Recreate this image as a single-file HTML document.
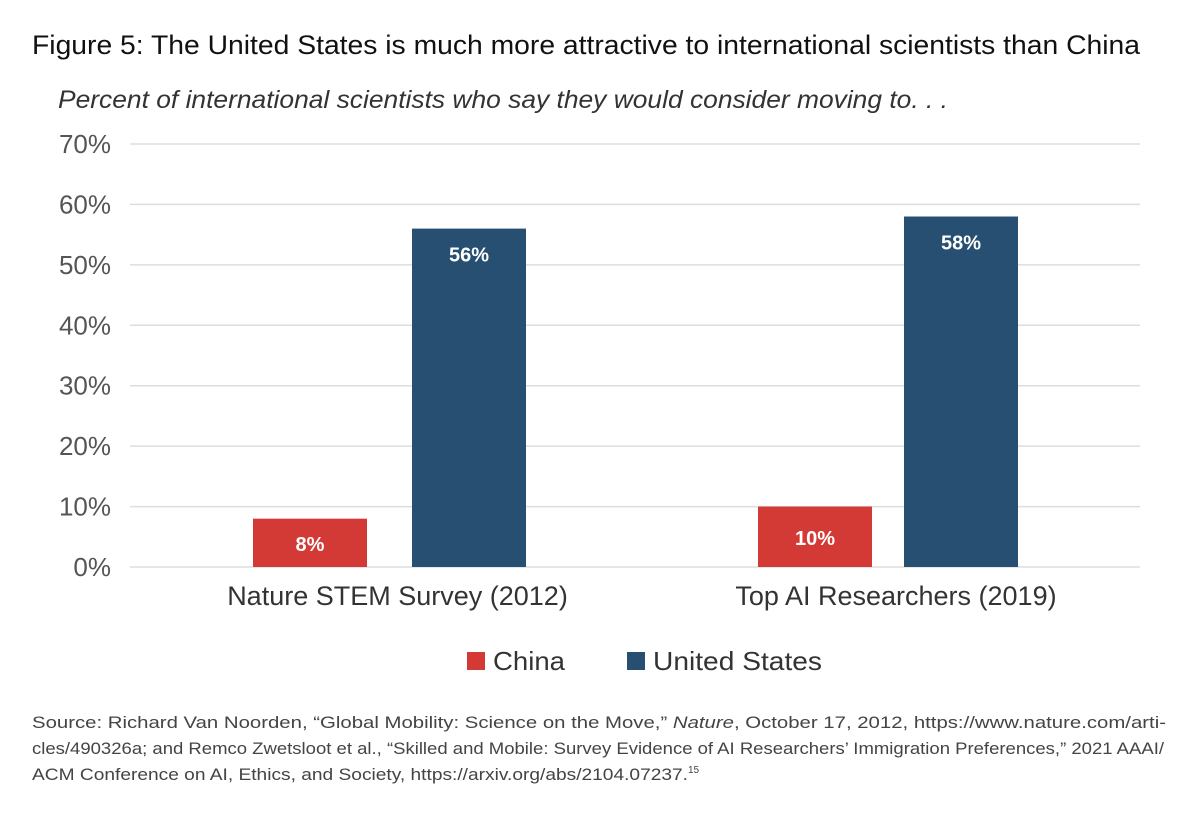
<!DOCTYPE html>
<html><head><meta charset="utf-8"><style>
body{margin:0;background:#fff;width:1200px;height:809px;overflow:hidden;font-family:"Liberation Sans",sans-serif}
</style></head><body>
<svg width="1200" height="809" font-family="Liberation Sans, sans-serif">
<text x="32" y="54" font-size="27" fill="#111" textLength="1108" lengthAdjust="spacingAndGlyphs">Figure 5: The United States is much more attractive to international scientists than China</text>
<text x="58" y="108" font-size="25" font-style="italic" fill="#333" textLength="890" lengthAdjust="spacingAndGlyphs">Percent of international scientists who say they would consider moving to. . .</text>
<g id="grid"></g><g id="bars"></g>
<g>
<rect x="467" y="652" width="18" height="18" fill="#d33a35"/>
<text x="493" y="670" font-size="26" fill="#333" textLength="72" lengthAdjust="spacingAndGlyphs">China</text>
<rect x="627" y="652" width="18" height="18" fill="#274f72"/>
<text x="653" y="670" font-size="26" fill="#333" textLength="169" lengthAdjust="spacingAndGlyphs">United States</text>
</g>
<g font-size="16.5" fill="#444">
<text x="32" y="728" textLength="1134" lengthAdjust="spacingAndGlyphs">Source: Richard Van Noorden, “Global Mobility: Science on the Move,” <tspan font-style="italic">Nature</tspan>, October 17, 2012, https://www.nature.com/arti-</text>
<text x="32" y="754" textLength="1132" lengthAdjust="spacingAndGlyphs">cles/490326a; and Remco Zwetsloot et al., “Skilled and Mobile: Survey Evidence of AI Researchers’ Immigration Preferences,” 2021 AAAI/</text>
<text x="32" y="780"><tspan textLength="656" lengthAdjust="spacingAndGlyphs">ACM Conference on AI, Ethics, and Society, https://arxiv.org/abs/2104.07237.</tspan><tspan font-size="10" dy="-7">15</tspan></text>
</g>
</svg>
<script>
const categories=["Nature STEM Survey (2012)","Top AI Researchers (2019)"];
const chinaValues=[8,10];
const usValues=[56,58];
const yTicks=[0,10,20,30,40,50,60,70];
const NS="http://www.w3.org/2000/svg";
const y0=567,y70=144;
function y(v){return y0-(v/70)*(y0-y70);}
function chinaX(i){return 253+i*505;}
function usX(i){return 412+i*492;}
function mk(t,a,p,txt){const e=document.createElementNS(NS,t);for(const k in a)e.setAttribute(k,a[k]);if(txt!=null)e.textContent=txt;p.appendChild(e);return e;}
const grid=document.getElementById('grid'),bars=document.getElementById('bars');
yTicks.forEach(t=>{
 const l=mk('line',{x1:130,x2:1140,y1:y(t),y2:y(t),stroke:'#ddd','stroke-width':1.5},grid);
 
 
 const tx=mk('text',{x:111,y:y(t)+9,'font-size':26,fill:'#555','text-anchor':'end'},grid,t+'%');
 
 
});
categories.forEach((c,i)=>{
 [[chinaValues[i],'#d33a35',chinaX(i),'china'],[usValues[i],'#274f72',usX(i),'us']].forEach(([v,col,bx,nm])=>{
  const r=mk('rect',{x:bx,y:y(v),width:114,height:y0-y(v),fill:col},bars);
  
  
  const ty=nm==='china'?y(v)+(y0-y(v))/2+8:y(v)+33;
  const t=mk('text',{x:bx+57,y:ty,'font-size':20,'font-weight':'bold',fill:'#fff','text-anchor':'middle'},bars,v+'%');
  
  
 });
 const cx=(chinaX(i)+usX(i)+114)/2+8;
 const ct=mk('text',{x:cx,y:605,'font-size':27,fill:'#333','text-anchor':'middle'},bars,c);
 
 
});
</script>
</body></html>
